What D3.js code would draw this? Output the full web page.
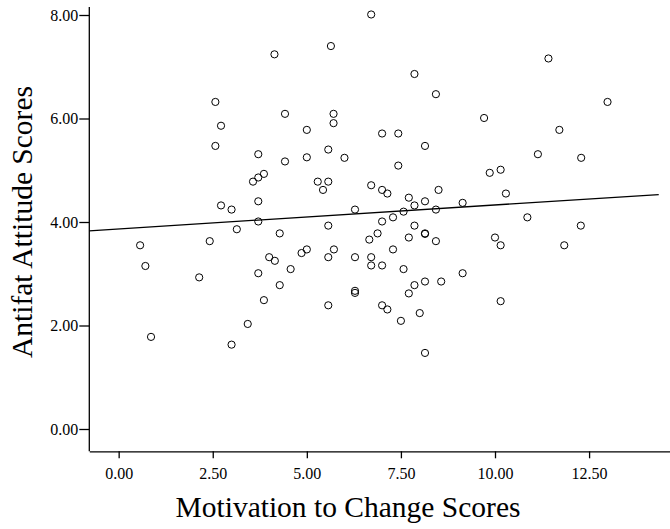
<!DOCTYPE html>
<html>
<head>
<meta charset="utf-8">
<script src="https://cdn.jsdelivr.net/npm/d3@7"></script>
<style>
  body { margin: 0; background: #fff; }
  svg text { font-family: "Liberation Serif", "Times New Roman", serif; fill: #000; }
</style>
</head>
<body>
<div id="chart"></div>
<script>

// Motivation to Change Scores (x) / Antifat Attitude Scores (y)
const motivation = [
  6.71, 4.14, 5.64, 11.42, 7.86, 8.43, 12.99, 9.71, 11.71, 2.57,
  2.72, 2.57, 4.42, 5.00, 5.71, 5.71, 5.57, 5.00, 4.42, 3.71,
  7.00, 7.43, 8.14, 6.00, 7.43, 11.14, 12.29, 9.86, 10.15, 3.57,
  3.71, 3.86, 5.29, 5.57, 5.43, 6.71, 7.00, 7.14, 8.50, 7.71,
  7.86, 8.14, 10.29, 3.71, 6.28, 7.57, 9.14, 8.43, 2.72, 3.00,
  3.14, 2.42, 0.57, 3.71, 4.28, 5.57, 7.00, 7.29, 7.86, 8.14,
  8.14, 7.71, 6.88, 6.66, 7.29, 8.43, 10.86, 12.28, 10.00, 10.15,
  11.84, 4.86, 5.00, 5.72, 4.00, 4.15, 5.57, 6.28, 6.71, 6.71,
  7.00, 7.57, 3.71, 4.57, 4.28, 3.86, 6.28, 6.28, 5.57, 7.00,
  7.14, 8.14, 8.57, 7.86, 7.71, 8.00, 7.50, 9.14, 10.15, 8.14,
  0.71, 0.86, 2.14, 3.00, 3.43
];
const antifat = [
  8.01, 7.24, 7.40, 7.16, 6.86, 6.47, 6.32, 6.01, 5.78, 6.32,
  5.86, 5.47, 6.09, 5.78, 6.09, 5.91, 5.40, 5.25, 5.17, 5.31,
  5.71, 5.71, 5.47, 5.24, 5.09, 5.31, 5.24, 4.95, 5.01, 4.78,
  4.86, 4.93, 4.78, 4.78, 4.62, 4.71, 4.62, 4.55, 4.62, 4.47,
  4.32, 4.40, 4.55, 4.40, 4.24, 4.20, 4.37, 4.24, 4.32, 4.24,
  3.86, 3.63, 3.55, 4.01, 3.78, 3.93, 4.01, 4.09, 3.93, 3.78,
  3.77, 3.70, 3.78, 3.66, 3.47, 3.63, 4.09, 3.93, 3.70, 3.55,
  3.55, 3.40, 3.47, 3.47, 3.32, 3.25, 3.32, 3.32, 3.32, 3.16,
  3.16, 3.09, 3.01, 3.09, 2.78, 2.49, 2.67, 2.63, 2.39, 2.39,
  2.31, 2.85, 2.85, 2.78, 2.62, 2.24, 2.09, 3.01, 2.47, 1.47,
  3.15, 1.78, 2.93, 1.63, 2.03
];

const xTicks = [0, 2.5, 5, 7.5, 10, 12.5];
const yTicks = [0, 2, 4, 6, 8];

// linear fit line
const fitIntercept = 3.865;
const fitSlope     = 0.0464;
const fitXEnd      = 14.35;

const width  = 670,
      height = 529;

const x = d3.scaleLinear()
  .domain([-0.78, 14.65])
  .range([89.3, 670]);

const y = d3.scaleLinear()
  .domain([0, 8])
  .range([429, 15]);

const yTop = 7, xAxisY = 451.3;

const svg = d3.select("#chart")
  .append("svg")
    .attr("width", width)
    .attr("height", height);

// x axis
svg.append("g")
  .attr("transform", `translate(0,${xAxisY})`)
  .call(d3.axisBottom(x)
    .tickValues(xTicks)
    .tickSize(7)
    .tickPadding(9)
    .tickFormat(d3.format(".2f"))
    .tickSizeOuter(0))
  .attr("font-family", null)
  .call(g => g.select(".domain").attr("stroke-width", 1.3))
  .call(g => g.selectAll(".tick line").attr("stroke-width", 1.3))
  .call(g => g.selectAll(".tick text").style("font-size", "16px"));

// y axis
svg.append("g")
  .attr("transform", `translate(${x.range()[0]},0)`)
  .call(d3.axisLeft(y)
    .tickValues(yTicks)
    .tickSize(10)
    .tickPadding(1)
    .tickFormat(d3.format(".2f"))
    .tickSizeOuter(0))
  .attr("font-family", null)
  .call(g => g.select(".domain").attr("d", `M0,${yTop}V${xAxisY}`).attr("stroke-width", 1.3))
  .call(g => g.selectAll(".tick line").attr("stroke-width", 1.3))
  .call(g => g.selectAll(".tick text").style("font-size", "16px"));

// fit line
svg.append("line")
  .attr("x1", x(x.domain()[0]))
  .attr("y1", y(fitIntercept + fitSlope * x.domain()[0]))
  .attr("x2", x(fitXEnd))
  .attr("y2", y(fitIntercept + fitSlope * fitXEnd))
  .attr("stroke", "#000")
  .attr("stroke-width", 1.3);

// points
svg.append("g")
  .selectAll("circle")
  .data(motivation.map((m, i) => [m, antifat[i]]))
  .join("circle")
    .attr("cx", d => x(d[0]))
    .attr("cy", d => y(d[1]))
    .attr("r", 3.6)
    .attr("fill", "none")
    .attr("stroke", "#000")
    .attr("stroke-width", 1);

// axis titles
svg.append("text")
  .attr("x", 348)
  .attr("y", 517)
  .attr("text-anchor", "middle")
  .style("font-size", "29.5px")
  .text("Motivation to Change Scores");

svg.append("text")
  .attr("transform", "translate(32,222) rotate(-90)")
  .attr("text-anchor", "middle")
  .style("font-size", "29.5px")
  .text("Antifat Attitude Scores");

</script>
</body>
</html>
